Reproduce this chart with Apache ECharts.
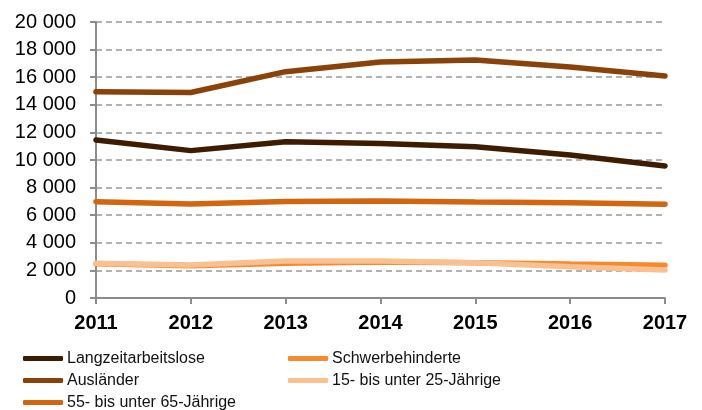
<!DOCTYPE html>
<html>
<head>
<meta charset="utf-8">
<script src="https://cdn.jsdelivr.net/npm/echarts@6/dist/echarts.min.js"></script>
<style>
  html, body { margin: 0; padding: 0; background: #fff; }
  #chart { width: 702px; height: 410px; }
</style>
</head>
<body>
<div id="chart"></div>
<script>
// data
const years = ['2011', '2012', '2013', '2014', '2015', '2016', '2017'];
const langzeit = [11450, 10680, 11330, 11200, 10960, 10360, 9570];
const auslaender = [14950, 14890, 16400, 17100, 17250, 16740, 16090];
const ab55 = [6980, 6810, 7000, 7030, 6960, 6900, 6790];
const schwer = [2480, 2340, 2510, 2600, 2560, 2460, 2370];
const jung = [2510, 2390, 2680, 2680, 2550, 2270, 2030];

const names = ['Langzeitarbeitslose', 'Ausländer', '55- bis unter 65-Jährige',
  'Schwerbehinderte', '15- bis unter 25-Jährige'];
const colors = ['#3d1c02', '#8a4209', '#d3650f', '#f88a2e', '#fac08f'];
const values = [langzeit, auslaender, ab55, schwer, jung];

const chart = echarts.init(document.getElementById('chart'));

function fmt(v) {
  return String(v).replace(/\B(?=(\d{3})+(?!\d))/g, ' ');
}

const legendBase = {
  orient: 'vertical',
  icon: 'roundRect',
  itemWidth: 40,
  itemHeight: 5,
  itemGap: 5,
  height: 80,
  padding: 0,
  textStyle: { fontFamily: 'Liberation Sans', fontSize: 16, lineHeight: 17, color: '#111', padding: [0, 0, 0, -1] }
};

chart.setOption({
  animation: false,
  color: colors,
  grid: { left: 96, right: 37, top: 22, bottom: 112 },
  legend: [
    Object.assign({}, legendBase, { left: 23, top: 350, data: names.slice(0, 3) }),
    Object.assign({}, legendBase, { left: 288, top: 350, data: names.slice(3) })
  ],
  xAxis: {
    type: 'category',
    data: years,
    boundaryGap: false,
    axisLine: { lineStyle: { color: '#8c8c8c', width: 2 } },
    axisTick: { length: 6, lineStyle: { color: '#8c8c8c', width: 2 } },
    axisLabel: { margin: 15, fontFamily: 'Liberation Sans', fontSize: 20, fontWeight: 'bold', color: '#000' }
  },
  yAxis: {
    type: 'value',
    min: 0,
    max: 20000,
    interval: 2000,
    axisLine: { show: true, lineStyle: { color: '#8c8c8c', width: 2 } },
    axisTick: { show: true, length: 6, lineStyle: { color: '#8c8c8c', width: 2 } },
    axisLabel: { margin: 20, fontFamily: 'Liberation Sans', fontSize: 20, color: '#000', formatter: fmt },
    splitLine: { lineStyle: { color: '#999', type: [6, 4], width: 1.5 } }
  },
  series: names.map((n, i) => ({
    name: n,
    type: 'line',
    data: values[i],
    symbol: 'none',
    z: 2 + i,
    lineStyle: { width: 5.5, color: colors[i], cap: 'round' }
  }))
});
</script>
</body>
</html>
